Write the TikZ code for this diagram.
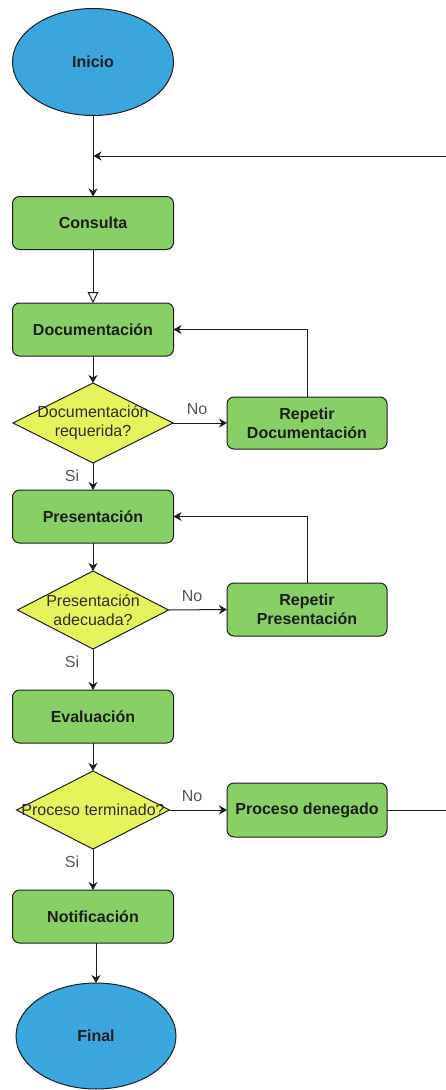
\documentclass[tikz,border=0pt]{standalone}
\usepackage{fontspec}
\setmainfont{Liberation Sans}
\usetikzlibrary{shapes.geometric,arrows.meta}

\definecolor{termblue}{HTML}{3AA6DD}
\definecolor{stepgreen}{HTML}{88CF66}
\definecolor{askyellow}{HTML}{E6F35A}
\definecolor{edgeblack}{HTML}{1E1E1E}
\definecolor{labelgrey}{HTML}{555555}

\tikzset{
  base/.style={draw=edgeblack, line width=1pt, inner sep=0pt, outer sep=0pt,
    font=\fontsize{16}{19.3}\selectfont, align=center},
  terminal/.style={base, ellipse, fill=termblue, minimum width=161pt,
    minimum height=107pt, font=\fontsize{16}{19.3}\selectfont\bfseries,
    text=edgeblack},
  stepbox/.style={base, rectangle, rounded corners=7pt, fill=stepgreen,
    minimum width=161pt, minimum height=53pt,
    font=\fontsize{16}{19.3}\selectfont\bfseries, text=edgeblack},
  ask/.style={base, diamond, fill=askyellow},
  asktext/.style={font=\fontsize{16}{19.3}\selectfont, align=center,
    text=black!82, inner sep=0pt},
  flow/.style={draw=edgeblack, line width=1pt,
    -{Stealth[length=8pt,width=9pt,inset=2.5pt]}},
  openflow/.style={draw=edgeblack, line width=1pt,
    -{Triangle[open,length=11pt,width=11pt,fill=white]}},
  branch/.style={font=\fontsize{16}{19}\selectfont, text=labelgrey,
    inner sep=0pt}
}

\begin{document}
\begin{tikzpicture}[x=1pt, y=-1pt]
  \useasboundingbox (0,0) rectangle (446,1090);
  \clip (0,0) rectangle (446,1090);

  % main column
  \node[terminal] (inicio) at (93,62) {Inicio};
  \node[stepbox] (consulta) at (93,223) {Consulta};
  \node[stepbox] (docu) at (93,329.5) {Documentación};
  \node[ask, minimum width=160pt, minimum height=80pt,
        label={[asktext]center:Documentación\\requerida?}] (qdoc) at (93,423) {};
  \node[stepbox] (pres) at (93,516.5) {Presentación};
  \node[ask, minimum width=151pt, minimum height=78pt,
        label={[asktext]center:Presentación\\adecuada?}] (qpres) at (93,610) {};
  \node[stepbox] (eval) at (93,716.5) {Evaluación};
  \node[ask, minimum width=153pt, minimum height=78pt,
        label={[asktext]center:Proceso terminado?}] (qend) at (93,810) {};
  \node[stepbox] (notif) at (93,916.5) {Notificación};
  \node[terminal, minimum width=160pt, minimum height=106pt] (final) at (96,1036) {Final};

  % side column
  \node[stepbox, minimum width=160pt, minimum height=52pt] (repdoc) at (307,423) {Repetir\\Documentación};
  \node[stepbox, minimum width=160pt] (reppres) at (307,609.5) {Repetir\\Presentación};
  \node[stepbox, minimum width=160pt, minimum height=54pt] (denied) at (307,810) {Proceso denegado};

  % joints of the return path
  \coordinate (merge) at (93,156);
  \coordinate (outlow) at (470,810);
  \coordinate (outhigh) at (470,156);

  % connectors
  \draw[line width=1pt, draw=edgeblack] (inicio.south) -- (merge);
  \draw[flow] (merge) -- (consulta.north);
  \draw[openflow] (consulta.south) -- (docu.north);
  \draw[flow] (docu.south) -- (qdoc.north);
  \draw[flow] (qdoc.east) -- (repdoc.west);
  \draw[flow] (repdoc.north) |- (docu.east);
  \draw[flow] (qdoc.south) -- (pres.north);
  \draw[flow] (pres.south) -- (qpres.north);
  \draw[flow] (qpres.east) -- (reppres.west);
  \draw[flow] (reppres.north) |- (pres.east);
  \draw[flow] (qpres.south) -- (eval.north);
  \draw[flow] (eval.south) -- (qend.north);
  \draw[flow] (qend.east) -- (denied.west);
  \draw[flow] (denied.east) -- (outlow) -- (outhigh) -- ([xshift=0.5pt]merge);
  \draw[flow] (qend.south) -- (notif.north);
  \draw[flow] (notif.south -| final.north) -- (final.north);

  % branch labels
  \node[branch] (no1) at (197,409) {No};
  \node[branch] (si1) at (72,476) {Si};
  \node[branch] (no2) at (192,596) {No};
  \node[branch] (si2) at (72,662) {Si};
  \node[branch] (no3) at (192,796) {No};
  \node[branch] (si3) at (72,862) {Si};
\end{tikzpicture}
\end{document}
